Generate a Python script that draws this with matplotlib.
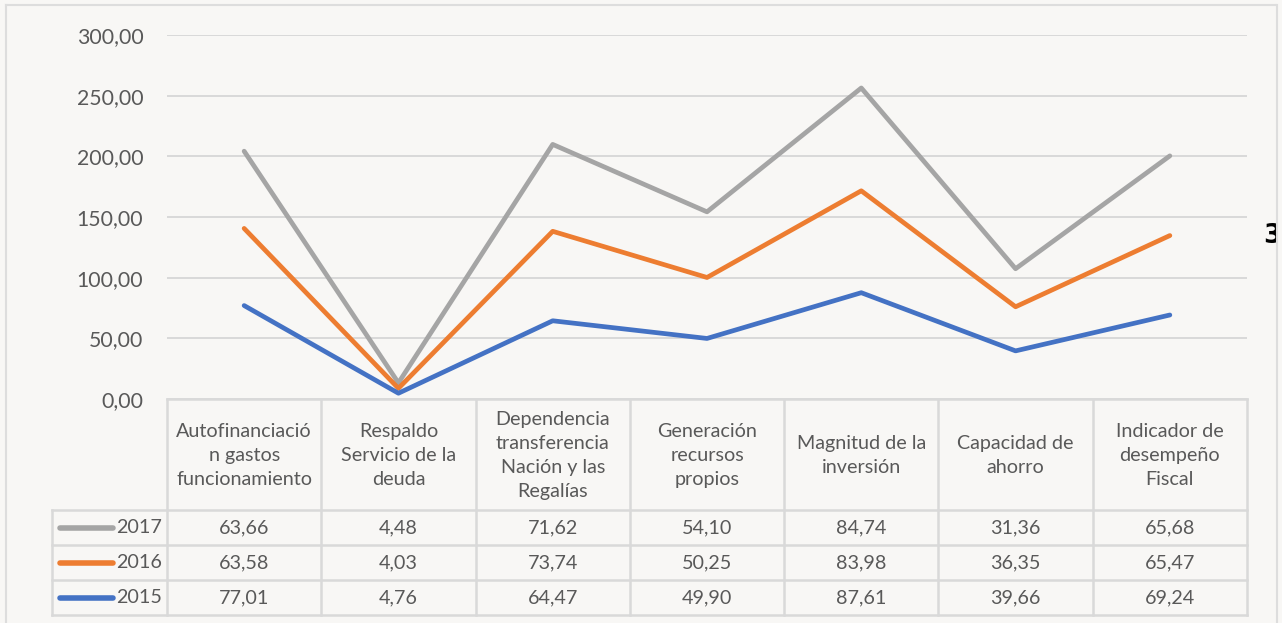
import numpy as np
import matplotlib.pyplot as plt
from matplotlib.lines import Line2D

# data (Excel stacked line chart with data table)
categories = [
    "Autofinanciació\nn gastos\nfuncionamiento",
    "Respaldo\nServicio de la\ndeuda",
    "Dependencia\ntransferencia\nNación y las\nRegalías",
    "Generación\nrecursos\npropios",
    "Magnitud de la\ninversión",
    "Capacidad de\nahorro",
    "Indicador de\ndesempeño\nFiscal",
]
years = ["2017", "2016", "2015"]
v2017 = [63.66, 4.48, 71.62, 54.10, 84.74, 31.36, 65.68]
v2016 = [63.58, 4.03, 73.74, 50.25, 83.98, 36.35, 65.47]
v2015 = [77.01, 4.76, 64.47, 49.90, 87.61, 39.66, 69.24]
yticks = [0, 50, 100, 150, 200, 250, 300]

colors = {"2017": "#A5A5A5", "2016": "#ED7D31", "2015": "#4472C4"}
txt = "#595959"
grid = "#D9D9D9"

plt.rcParams["font.family"] = ["Lato", "DejaVu Sans"]

W, H = 1282, 623
fig = plt.figure(figsize=(W / 100, H / 100), dpi=100, facecolor="#F8F7F5")

# plot area in pixel coords
x0, x1, ytop, ybot = 167, 1247, 35, 399
ax = fig.add_axes([x0 / W, 1 - ybot / H, (x1 - x0) / W, (ybot - ytop) / H])
ax.set_facecolor("none")

x = np.arange(len(categories))
s2015 = np.array(v2015)
s2016 = s2015 + np.array(v2016)
s2017 = s2016 + np.array(v2017)

lw = 3.4
ax.plot(x, s2017, color=colors["2017"], lw=lw, solid_capstyle="round", zorder=3)
ax.plot(x, s2016, color=colors["2016"], lw=lw, solid_capstyle="round", zorder=4)
ax.plot(x, s2015, color=colors["2015"], lw=lw, solid_capstyle="round", zorder=5)

ax.set_xlim(-0.5, len(categories) - 0.5)
ax.set_ylim(0, 300)
ax.set_yticks(yticks)
ax.set_yticklabels([f"{v:.2f}".replace(".", ",") for v in yticks], fontsize=15.3, color=txt)
ax.tick_params(axis="y", length=0, pad=17)
ax.set_xticks([])
ax.yaxis.grid(True, color=grid, lw=1.4)
ax.set_axisbelow(True)
for s in ax.spines.values():
    s.set_visible(False)

# overlay in pixel coordinates for the data table and the frame
ov = fig.add_axes([0, 0, 1, 1], facecolor="none")
ov.set_xlim(0, W)
ov.set_ylim(H, 0)
ov.axis("off")

# outer frame
ov.add_line(Line2D([6, 6], [5, H], color="#DDDDDD", lw=1.5))
ov.add_line(Line2D([6, 1277], [5, 5], color="#DDDDDD", lw=1.5))

col_w = (x1 - x0) / len(categories)
bounds = [x0 + i * col_w for i in range(len(categories) + 1)]
rows = [399, 510, 545, 580, 615]
legx = 52

# table lines
ov.add_line(Line2D([x0, x1], [rows[0], rows[0]], color=grid, lw=1.8))
for r in rows[1:]:
    ov.add_line(Line2D([legx, x1], [r, r], color=grid, lw=1.8))
for b in bounds:
    ov.add_line(Line2D([b, b], [rows[0], rows[-1]], color=grid, lw=1.8))
ov.add_line(Line2D([legx, legx], [rows[1], rows[-1]], color=grid, lw=1.8))

# header texts
for i, c in enumerate(categories):
    cx = (bounds[i] + bounds[i + 1]) / 2
    ov.text(cx, (rows[0] + rows[1]) / 2 + 1, c, ha="center", va="center",
            fontsize=14.2, color=txt, linespacing=1.52)

# value rows
for j, (yr, vals) in enumerate(zip(years, [v2017, v2016, v2015])):
    cy = (rows[j + 1] + rows[j + 2]) / 2
    ov.add_line(Line2D([60, 113], [cy, cy], color=colors[yr], lw=4, solid_capstyle="round"))
    ov.text(116, cy, yr, ha="left", va="center", fontsize=14.2, color=txt)
    for i, v in enumerate(vals):
        cx = (bounds[i] + bounds[i + 1]) / 2
        ov.text(cx, cy, f"{v:.2f}".replace(".", ","), ha="center", va="center",
                fontsize=14.2, color=txt)

# clipped stray label on the right edge
ov.text(1263, 236, "3", ha="left", va="center", fontsize=19, fontweight="heavy",
        family=["DejaVu Sans"], color="black", zorder=1)
ov.add_patch(plt.Rectangle((1277, 0), 10, H, color="#F8F7F5", zorder=2))
ov.add_line(Line2D([1277, 1277], [5, H], color="#DDDDDD", lw=1.5, zorder=3))

fig.savefig("out.png", dpi=100, facecolor=fig.get_facecolor())
